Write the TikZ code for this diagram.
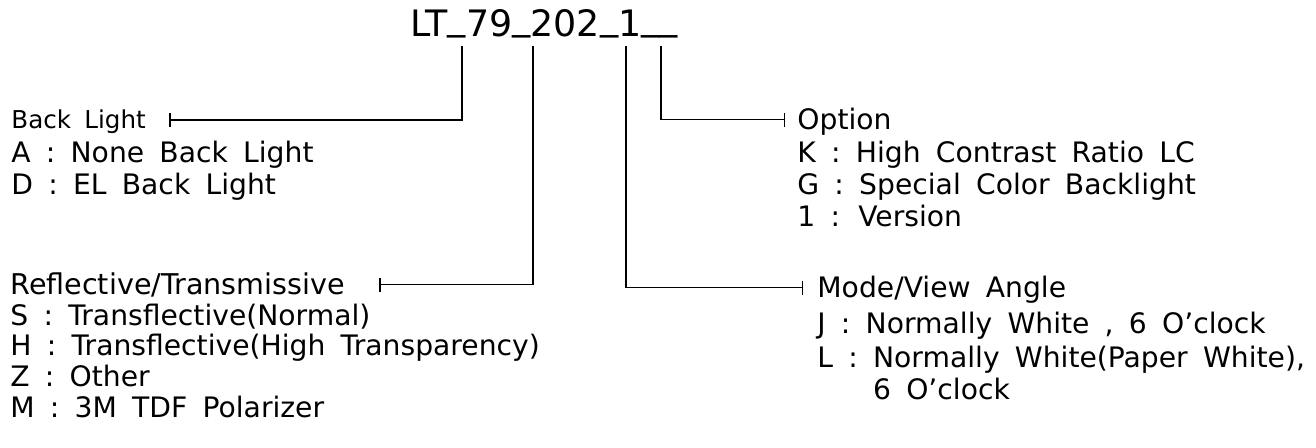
\documentclass[tikz,border=0pt]{standalone}
\usepackage{fontspec}
\setmainfont{DejaVu Sans}[WordSpace=1.7]
\usepackage{tikz}
\usetikzlibrary{arrows.meta, positioning}

\newcommand{\us}{\raisebox{0.2em}{\_}}

\begin{document}
\begin{tikzpicture}[
  x=0.5pt, y=-0.5pt,
  code/.style={anchor=base west, inner sep=0pt, font=\fontsize{18.2}{20}\selectfont},
  head/.style={anchor=base west, inner sep=0pt, text height=10.3pt, text depth=0pt,
               font=\fontsize{14.1}{16}\selectfont},
  items/.style={anchor=base west, inner sep=0pt, align=left},
  link/.style={-{Bar[width=7pt]}, line width=0.75pt}
]
\useasboundingbox (0,0) rectangle (1316,448);

\node[code] (code) at (410,37) {LT\us 79\us 202\us 1\us\us};
\coordinate (t1) at (462,46);
\coordinate (t2) at (533,46);
\coordinate (t3) at (626,46);
\coordinate (t4) at (661,46);

% the base of a block is its last line
\node[head, text height=9pt, font=\fontsize{12.3}{14}\selectfont] (bl) at (11,129) {Back Light};
\node[items, below=33pt of bl.base west, anchor=base west,
      font=\fontsize{14.1}{16}\selectfont] (blitems)
  {A : None Back Light\\D : EL Back Light};

\node[head] (opt) at (797,130) {Option};
\node[items, below=48.5pt of opt.base west, anchor=base west,
      font=\fontsize{14.1}{16}\selectfont] (optitems)
  {K : High Contrast Ratio LC\\G : Special Color Backlight\\1 : Version};

\node[head, font=\fontsize{14.3}{16}\selectfont] (rt) at (10,295) {Reflective/Transmissive};
\node[items, below=61pt of rt.base west, anchor=base west,
      font=\fontsize{14.1}{15.3}\selectfont] (rtitems)
  {S : Transflective(Normal)\\H : Transflective(High Transparency)\\Z : Other\\M : 3M TDF Polarizer};

\node[head] (mode) at (817,298) {Mode/View Angle};
\node[items, below=51pt of mode.base west, anchor=base west,
      font=\fontsize{14.1}{16.5}\selectfont] (modeitems)
  {J : Normally White , 6 O'clock\\L : Normally White(Paper White),\\\phantom{L :\ }6 O'clock};

\draw[link] (t1) |- ([xshift=11.5pt]bl.east);
\draw[link] (t2) |- ([xshift=17pt]rt.east);
\draw[link] (t3) |- ([xshift=-7pt]mode.west);
\draw[link] (t4) |- ([xshift=-6pt]opt.west);

\end{tikzpicture}
\end{document}
